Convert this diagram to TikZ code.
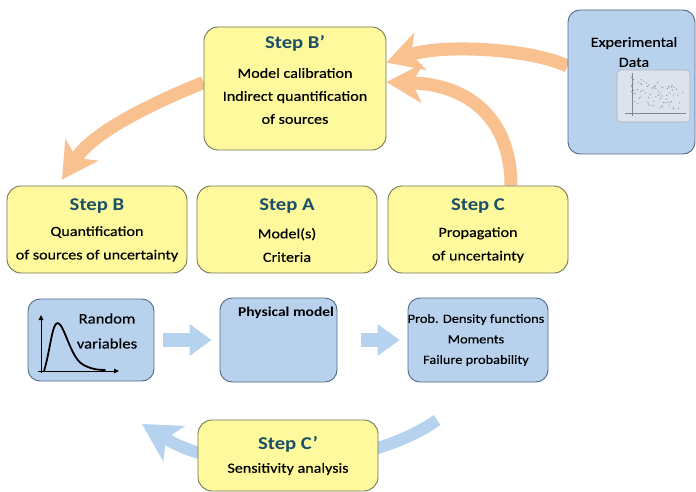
\documentclass[tikz,border=0pt]{standalone}
\usepackage{fontspec}
\setmainfont{Carlito}[FakeStretch=1.15, UprightFeatures={FakeBold=0.4}]
\usetikzlibrary{arrows.meta}

\definecolor{boxyellow}{HTML}{FDF99C}
\definecolor{yellowline}{HTML}{737356}
\definecolor{boxblue}{HTML}{B8D2EE}
\definecolor{blueline}{HTML}{52698A}
\definecolor{titleteal}{HTML}{1B5069}
\definecolor{loopapricot}{HTML}{F9C090}
\definecolor{loopblue}{HTML}{B5D2EF}
\definecolor{plotpanel}{HTML}{DDE3EC}
\definecolor{plotdot}{HTML}{7C889A}

\pgfdeclarelayer{loops}
\pgfsetlayers{loops,main}

\tikzset{
  stepbox/.style={draw=yellowline, fill=boxyellow, line width=0.9pt,
    rounded corners=14pt, inner sep=0pt},
  bluebox/.style={draw=blueline, fill=boxblue, line width=0.9pt,
    rounded corners=12pt, inner sep=0pt},
  steptitle/.style={font=\bfseries\fontsize{18}{20}\selectfont,
    text=titleteal, inner sep=0pt},
  steptext/.style={font=\fontsize{14}{23.5}\selectfont, align=center,
    inner sep=0pt},
  feedback/.style={draw=loopapricot, line width=13pt,
    -{Stealth[length=36pt,width=40pt,inset=10pt,line width=0pt]}},
  flowarrow/.style={draw=loopblue, line width=14pt,
    -{Triangle[length=22pt,width=32pt,line width=0pt]}},
  loopback/.style={draw=loopblue, line width=12pt,
    -{Stealth[length=38pt,width=42pt,inset=10pt,line width=0pt]}},
}

\begin{document}
\begin{tikzpicture}[x=1pt,y=-1pt]
\useasboundingbox (0,0) rectangle (696,492);

% ---- boxes ----
\path
  node[stepbox, minimum width=182pt, minimum height=123pt] (stepBp) at (295,88.5) {}
  node[bluebox, minimum width=127pt, minimum height=144pt] (data) at (631.5,82) {}
  node[stepbox, minimum width=180pt, minimum height=87pt] (stepB) at (97,229.5) {}
  node[stepbox, minimum width=180pt, minimum height=87pt] (stepA) at (287,229.5) {}
  node[stepbox, minimum width=180pt, minimum height=87pt] (stepC) at (478,229.5) {}
  node[bluebox, minimum width=126pt, minimum height=82pt] (rv) at (91,340) {}
  node[bluebox, minimum width=117pt, minimum height=84pt] (pm) at (278.5,340) {}
  node[bluebox, minimum width=140pt, minimum height=84pt] (prob) at (478,340) {}
  node[stepbox, minimum width=180pt, minimum height=71pt] (stepCp) at (288,455.5) {};

% ---- feedback loops, kept underneath the boxes ----
\coordinate (loopstart) at (437,420);
\coordinate (loopend) at (142,424);
\begin{pgfonlayer}{loops}
\draw[feedback] ([yshift=16pt]data.west)
  .. controls (525,47) and (440,45) .. ([yshift=26pt]stepBp.east);
\draw[feedback] ([xshift=33pt]stepC.north)
  .. controls (511,120) and (470,85) .. ([yshift=6.5pt]stepBp.east);
\draw[feedback] ([yshift=6pt]stepBp.west)
  .. controls (160,100) and (95,130) .. ([xshift=-35pt,yshift=6pt]stepB.north);
\draw[loopback] (loopstart)
  .. controls (370,468) and (230,478) .. (loopend);
\end{pgfonlayer}

\draw[flowarrow] ([xshift=9pt]rv.east) -- ([xshift=-8pt]pm.west);
\draw[flowarrow] ([xshift=24pt]pm.east) -- ([xshift=-8pt]prob.west);

% ---- texts ----
\node[steptitle] (stepBp-title) at (295,43) {Step B’};
\node[steptext, font=\fontsize{14}{23}\selectfont] (stepBp-text) at (295,96)
  {Model calibration\\Indirect quantification\\of sources};

\node[steptitle] (stepB-title) at (97,206) {Step B};
\node[steptext] (stepB-text) at (97,244) {Quantification\\of sources of uncertainty};
\node[steptitle] (stepA-title) at (287,206) {Step A};
\node[steptext] (stepA-text) at (287,245) {Model(s)\\Criteria};
\node[steptitle] (stepC-title) at (478,206) {Step C};
\node[steptext] (stepC-text) at (478,245) {Propagation\\of uncertainty};

\node[steptitle] (stepCp-title) at (288,444) {Step C’};
\node[steptext] (stepCp-text) at (288,469) {Sensitivity analysis};

\node[steptext, font=\fontsize{14}{20}\selectfont] (data-text) at (634,52)
  {Experimental\\Data};
\node[steptext, font=\fontsize{14.5}{25}\selectfont] (rv-text) at (107,331)
  {Random\\variables};
\node[font=\bfseries\fontsize{13.5}{15}\selectfont, inner sep=0pt] (pm-text)
  at (286,313) {Physical model};
\node[steptext, font=\fontsize{12.5}{20.5}\selectfont] (prob-text) at (476,340)
  {Prob. Density functions\\Moments\\Failure probability};

% ---- small density sketch ----
\draw[line width=1pt, -{Triangle[length=5pt,width=4.5pt]}] (41,373) -- (41,315);
\draw[line width=1pt, -{Triangle[length=5pt,width=4.5pt]}] (38,371) -- (119,371);
\draw[line width=1.8pt, line cap=round, line join=round]
  (44,371) .. controls (50,352) and (52,323) .. (57.5,323)
  .. controls (64,323) and (70,356) .. (82,364)
  .. controls (90,369) and (98,370) .. (105,370);

% ---- small scatter plot ----
\draw[draw=gray!60, fill=plotpanel, rounded corners=4pt, line width=0.6pt]
  (617,70) rectangle (690,122);
\draw[plotdot, line width=0.5pt] (632,73) -- (632,116);
\draw[plotdot, line width=0.5pt] (625,113) -- (686,113);
\pgfmathsetseed{42}
\foreach \k in {1,...,75}{
  \pgfmathsetmacro{\u}{rand}
  \pgfmathsetmacro{\v}{rand}
  \fill[plotdot] ({656+27*\u},{94+13*\v+5*\u}) circle (0.6pt);
}
\end{tikzpicture}
\end{document}
